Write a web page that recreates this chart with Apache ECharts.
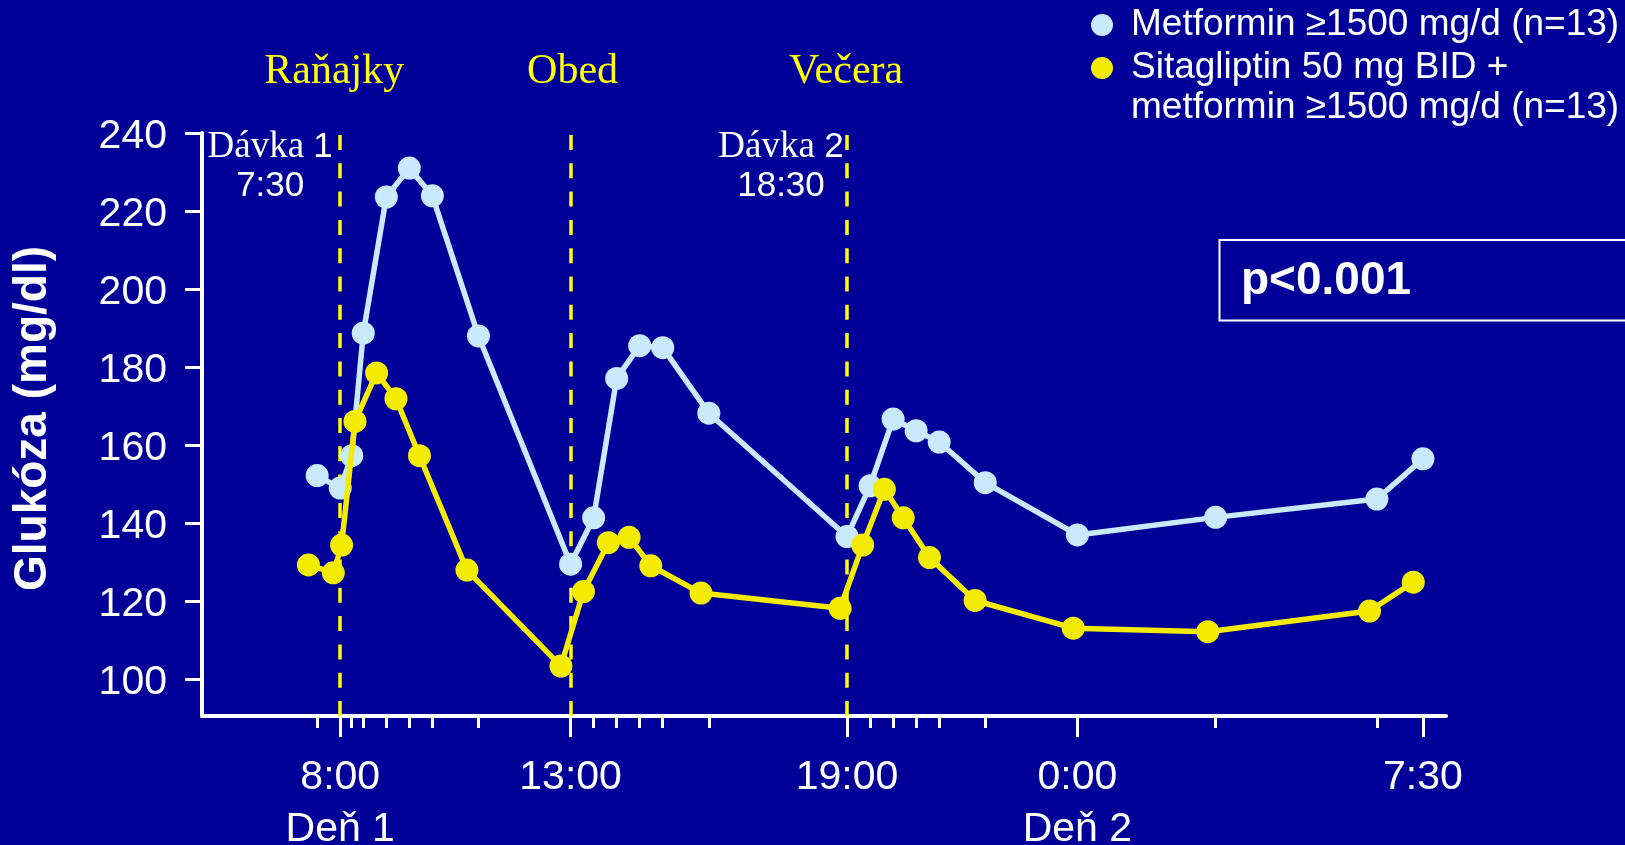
<!DOCTYPE html>
<html>
<head>
<meta charset="utf-8">
<script src="https://cdn.jsdelivr.net/npm/echarts@6/dist/echarts.min.js"></script>
<style>
  html, body { margin: 0; padding: 0; background: #000099; }
  #chart { width: 1625px; height: 845px; }
</style>
</head>
<body>
<div id="chart"></div>
<script>
// Sampling times in hours from midnight of day 1 (24 = 0:00 of day 2)
const metforminTimes  = [7.5, 8, 8.25, 8.5, 9, 9.5, 10, 11, 13, 13.5, 14, 14.5, 15, 16,
                         19, 19.5, 20, 20.5, 21, 22, 24, 27, 30.5, 31.5];
const metforminValues = [152.2, 149.0, 157.3, 188.7, 223.6, 231.0, 223.9, 188.0, 129.5, 141.4,
                         177.1, 185.5, 185.0, 168.2, 136.6, 149.6, 166.7, 163.7, 160.8, 150.4,
                         137.0, 141.5, 146.2, 156.5];

const sitaTimes  = [7.31, 7.85, 8.03, 8.32, 8.79, 9.21, 9.72, 10.75, 12.79, 13.28, 13.82, 14.27,
                    14.74, 15.83, 18.85, 19.34, 19.81, 20.22, 20.79, 21.78, 23.91, 26.83, 30.34, 31.29];
const sitaValues = [129.3, 127.3, 134.4, 166.1, 178.5, 171.9, 157.3, 128.0, 103.4, 122.5, 135.0,
                    136.4, 129.1, 122.1, 118.2, 134.4, 148.7, 141.4, 131.2, 120.2, 113.1, 112.2,
                    117.5, 124.9];

const metforminName = 'Metformin ≥1500 mg/d (n=13)';
const sitaName      = 'Sitagliptin 50 mg BID +\nmetformin ≥1500 mg/d (n=13)';

// X axis: labelled hours and the short sampling ticks
const majorTicks  = [8, 13, 19, 24, 31.5];
const majorLabels = ['8:00\nDeň 1', '13:00', '19:00', '0:00\nDeň 2', '7:30'];
const sampleTicks = [7.5, 8.25, 8.5, 9, 9.5, 10, 11, 13.5, 14, 14.5, 15, 16,
                     19.5, 20, 20.5, 21, 22, 27, 30.5];

// Y axis ticks
const yTicks = [100, 120, 140, 160, 180, 200, 220, 240];

// Meals and doses
const mealTimes = [8, 13, 19];
const mealNames = ['Raňajky', 'Obed', 'Večera'];
const doseTimes = [7.5, 18.5];
const doseNames = ['1', '2'];
const doseClock = ['7:30', '18:30'];

const SANS  = '"Liberation Sans", Arial, Helvetica, sans-serif';
const SERIF = '"Liberation Serif", "Times New Roman", Times, serif';
const WHITE = '#ffffff';
const BLUE  = '#c8eafc';
const YELLOW = '#f4ec00';
const GUIDE = '#ffff00';

const pairs = (xs, ys) => xs.map((x, i) => [x, ys[i]]);

const chart = echarts.init(document.getElementById('chart'), null, { renderer: 'canvas' });

const mealLabelOffsets = [[-6, -61], [2, -61], [-1, -61]];
const doseLabelOffsets = [[-47, 34], [-43, 34]];

const option = {
  backgroundColor: '#000099',
  animation: false,
  textStyle: { fontFamily: SANS },
  grid: { left: 202, top: 133, width: 1244, height: 583, containLabel: false, outerBoundsMode: 'none' },
  legend: {
    orient: 'vertical',
    left: 1091,
    top: 5,
    padding: 0,
    itemGap: -37,
    icon: 'circle',
    itemWidth: 48,
    itemHeight: 22,
    selectedMode: false,
    // a leading blank line keeps the marker level with the first line of a two-line name
    formatter: name => (name.indexOf('\n') >= 0 ? '\n' + name : name),
    textStyle: { color: WHITE, fontSize: 37, lineHeight: 40, fontFamily: SANS },
    data: [{ name: metforminName }, { name: sitaName }]
  },
  xAxis: [
    {
      type: 'value', min: 5, max: 32, position: 'bottom',
      axisLine: { show: true, onZero: false, lineStyle: { color: WHITE, width: 4 } },
      axisTick: { show: true, customValues: majorTicks, length: 21, lineStyle: { color: WHITE, width: 3 } },
      axisLabel: {
        show: true, customValues: majorTicks,
        formatter: v => majorLabels[majorTicks.indexOf(v)] || '',
        color: WHITE, fontSize: 41, lineHeight: 52, margin: 36, fontFamily: SANS
      },
      splitLine: { show: false }
    },
    {
      type: 'value', min: 5, max: 32, position: 'bottom',
      axisLine: { show: false, onZero: false },
      axisTick: { show: true, customValues: sampleTicks, length: 12, lineStyle: { color: WHITE, width: 3 } },
      axisLabel: { show: false },
      splitLine: { show: false }
    }
  ],
  yAxis: {
    type: 'value', min: 90.6, max: 240,
    axisLine: { show: true, onZero: false, lineStyle: { color: WHITE, width: 4 } },
    axisTick: { show: true, customValues: yTicks, length: 17, lineStyle: { color: WHITE, width: 3 } },
    axisLabel: {
      show: true, customValues: yTicks, color: WHITE, fontSize: 41, margin: 35, fontFamily: SANS,
      // sit each number a few pixels below its tick
      verticalAlign: 'top', lineHeight: 41, padding: [-17, 0, 0, 0]
    },
    splitLine: { show: false },
    name: 'Glukóza (mg/dl)',
    nameLocation: 'middle',
    nameRotate: 90,
    nameGap: 146,
    nameTextStyle: { color: WHITE, fontSize: 46, fontWeight: 'bold', fontFamily: SANS, padding: [0, 0, 0, 12] }
  },
  series: [
    {
      name: metforminName,
      type: 'line',
      data: pairs(metforminTimes, metforminValues),
      symbol: 'circle',
      symbolSize: 23,
      lineStyle: { color: BLUE, width: 5.5 },
      itemStyle: { color: BLUE, borderWidth: 0 },
      z: 3,
      markLine: {
        silent: true,
        z: 1,
        symbol: 'none',
        label: { show: false },
        lineStyle: { color: GUIDE, type: [15, 13.3], width: 3.5 },
        data: mealTimes.map(t => ({ xAxis: t }))
      },
      markPoint: {
        silent: true,
        symbol: 'circle',
        symbolSize: 0,
        itemStyle: { color: 'transparent' },
        data: [
          ...mealTimes.map((t, i) => ({
            coord: [t, 240],
            label: {
              show: true, position: 'inside', formatter: mealNames[i], offset: mealLabelOffsets[i],
              color: GUIDE, fontFamily: SERIF, fontSize: 42, align: 'center', verticalAlign: 'middle'
            }
          })),
          ...doseTimes.map((t, i) => ({
            coord: [t, 240],
            label: {
              show: true, position: 'inside', offset: doseLabelOffsets[i],
              formatter: '{s|Dávka }{n|' + doseNames[i] + '}\n{n|' + doseClock[i] + '}',
              align: 'center', verticalAlign: 'middle',
              rich: {
                s: { fontFamily: SERIF, fontSize: 37, color: WHITE, lineHeight: 39 },
                n: { fontFamily: SANS, fontSize: 35, color: WHITE, lineHeight: 39 }
              }
            }
          }))
        ]
      }
    },
    {
      name: sitaName,
      type: 'line',
      data: pairs(sitaTimes, sitaValues),
      symbol: 'circle',
      symbolSize: 23,
      lineStyle: { color: YELLOW, width: 5.5 },
      itemStyle: { color: YELLOW, borderWidth: 0 },
      z: 4
    }
  ],
  graphic: [
    {
      type: 'rect',
      shape: { x: 1219.5, y: 240, width: 520, height: 80.5 },
      style: { fill: 'none', stroke: WHITE, lineWidth: 2 }
    },
    {
      type: 'text',
      x: 1241, y: 281,
      style: { text: 'p<0.001', fill: WHITE, font: 'bold 46px ' + SANS, verticalAlign: 'middle', align: 'left' }
    }
  ]
};

chart.setOption(option);
</script>
</body>
</html>
